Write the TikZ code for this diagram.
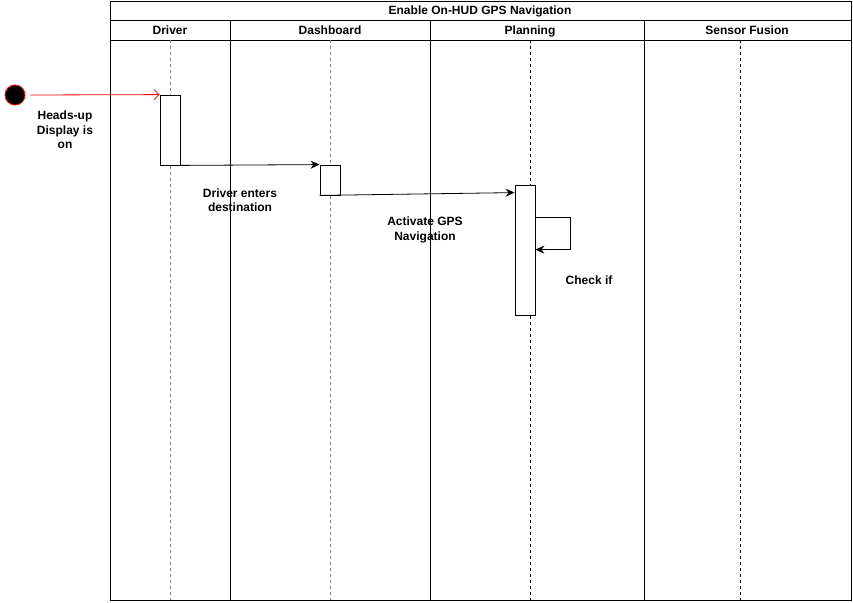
\documentclass[tikz,border=0pt]{standalone}
\usepackage{fontspec}
\setmainfont{Liberation Sans}
\usetikzlibrary{arrows.meta,positioning}

\tikzset{
  lbl/.style={font=\bfseries\fontsize{12}{14.5}\selectfont, align=center, inner sep=0pt},
  actbox/.style={draw, fill=white, minimum width=20pt, inner sep=0pt},
  lifeline/.style={dash pattern=on 3pt off 3pt, line width=0.8pt},
  msg/.style={-{Stealth[length=9pt,width=8pt]}, line width=0.8pt}
}

\begin{document}
\begin{tikzpicture}[x=1pt,y=-1pt,line width=0.8pt]
\useasboundingbox (0,0) rectangle (853,602);
% pool and lanes
\draw (110,1) rectangle (851,600);
\draw (110,20) -- (851,20) (110,40) -- (851,40);
\draw (230,20) -- (230,600) (430,20) -- (430,600) (644,20) -- (644,600);
\node[lbl, anchor=base] (title) at (480,15) {Enable On-HUD GPS Navigation};
\node[lbl, anchor=base] (drvhead) at (170,35) {Driver};
\node[lbl, anchor=base] (dashhead) at (330,35) {Dashboard};
\node[lbl, anchor=base] (plnhead) at (530,35) {Planning};
\node[lbl, anchor=base] (sfhead) at (747,35) {Sensor Fusion};
% lifelines
\draw[lifeline, color=gray] (170,40) -- (170,600);
\draw[lifeline, color=gray] (330,40) -- (330,600);
\draw[lifeline] (530,40) -- (530,600);
\draw[lifeline] (740,40) -- (740,600);
% activations
\node[actbox, minimum height=70pt] (drv) at (170,130) {};
\node[actbox, minimum height=30pt] (dash) at (330,180) {};
\node[actbox, minimum height=130pt] (pln) at (525,250) {};
% start
\node[circle, draw=red, fill=black, minimum size=20pt, inner sep=0pt] (start) at (15,95) {};
\draw[red, -{Straight Barb[length=5pt,width=10pt]}] ([xshift=5pt]start.east) -- (drv.north west);
\node[lbl] (hudon) at (65,130) {Heads-up\\Display is\\on};
% messages
\draw[msg] (drv.south east) -- (dash.north west);
\node[lbl] (enterlbl) at (240,200) {Driver enters\\destination};
\draw[msg] (dash.south west) -- ([yshift=-8pt]pln.north west);
\node[lbl] (gpslbl) at (425,230) {Activate GPS\\Navigation};
\draw[msg] ([yshift=-33pt]pln.north east) -- ++(35,0) -- ++(0,32) -- ++(-35,0);
\node[lbl] (checklbl) at (589,280) {Check if};
\end{tikzpicture}
\end{document}
